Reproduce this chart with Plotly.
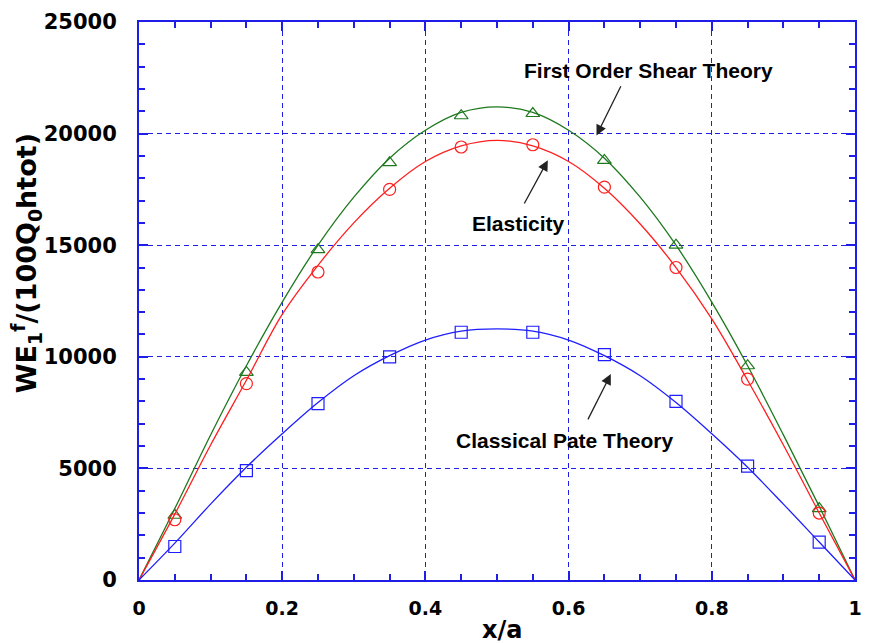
import plotly.graph_objects as go

# curve sample positions and values
x_curve = [0, 0.05, 0.1, 0.15, 0.2, 0.25, 0.3, 0.35, 0.4, 0.45, 0.5,
           0.55, 0.6, 0.65, 0.7, 0.75, 0.8, 0.85, 0.9, 0.95, 1.0]
fsdt_curve = [0, 3200, 6500, 9600, 12450, 15000, 17150, 18900, 20150, 20950, 21200,
              20950, 20150, 18900, 17150, 15000, 12450, 9600, 6500, 3300, 0]
elas_curve = [0, 2950, 6050, 8950, 11900, 14100, 16000, 17550, 18750, 19450, 19700,
              19450, 18750, 17550, 15950, 14000, 11700, 8950, 6050, 3000, 0]
cpt_curve = [0, 1650, 3400, 5050, 6550, 7950, 9150, 10050, 10750, 11150, 11250,
             11150, 10750, 10050, 9150, 7950, 6550, 5050, 3400, 1700, 0]

# marker positions and values
x_mark = [0.05, 0.15, 0.25, 0.35, 0.45, 0.55, 0.65, 0.75, 0.85, 0.95]
fsdt_mark = [2900, 9300, 14800, 18700, 20800, 20900, 18800, 15000, 9600, 3200]
elas_mark = [2700, 8800, 13800, 17500, 19400, 19500, 17600, 14000, 9000, 3000]
cpt_mark = [1500, 4900, 7900, 10000, 11100, 11100, 10100, 8000, 5100, 1700]

GREEN = "rgb(30,120,30)"
RED = "rgb(255,30,30)"
BLUE = "rgb(30,30,255)"
AXIS = "rgb(30,30,230)"

fig = go.Figure()
for yc, ym, col, sym in [(fsdt_curve, fsdt_mark, GREEN, "triangle-up-open"),
                         (elas_curve, elas_mark, RED, "circle-open"),
                         (cpt_curve, cpt_mark, BLUE, "square-open")]:
    fig.add_trace(go.Scatter(x=x_curve, y=yc, mode="lines",
                             line=dict(color=col, width=1.3, shape="spline"),
                             showlegend=False, hoverinfo="skip"))
    fig.add_trace(go.Scatter(x=x_mark, y=ym, mode="markers",
                             marker=dict(symbol=sym, size=12, color=col,
                                         line=dict(color=col, width=1.2)),
                             showlegend=False))

# empty trace to activate the frame axes (top / right, mirrored to bottom / left)
fig.add_trace(go.Scatter(x=[], y=[], xaxis="x2", yaxis="y2", showlegend=False,
                         hoverinfo="skip"))

font_lab = dict(family="Liberation Sans, Arial, sans-serif", size=21, color="black", weight="bold")
annots = [
    dict(text="First Order Shear Theory", x=0.712, y=22815,
         head_x=0.639, head_y=19918, tail_x=0.674, tail_y=22190),
    dict(text="Elasticity", x=0.530, y=15952,
         head_x=0.571, head_y=18804, tail_x=0.537, tail_y=16800),
    dict(text="Classical Pate Theory", x=0.594, y=6238,
         head_x=0.659, head_y=9224, tail_x=0.626, tail_y=7130),
]
for a in annots:
    fig.add_annotation(x=a["x"], y=a["y"], text=a["text"], showarrow=False,
                       font=font_lab, xref="x", yref="y")
    fig.add_annotation(x=a["head_x"], y=a["head_y"], ax=a["tail_x"], ay=a["tail_y"],
                       axref="x", ayref="y", xref="x", yref="y", text="",
                       showarrow=True, arrowhead=2, arrowsize=1.6, arrowwidth=1.3,
                       arrowcolor="#222222")

# axis titles as annotations (positioned as in the reference)
fig.add_annotation(text="WE<sub>1</sub><sup>f</sup>/(100Q<sub>0</sub>htot)",
                   xref="paper", yref="paper", x=-0.157, y=0.567, textangle=-90,
                   showarrow=False, xanchor="center", yanchor="middle",
                   font=dict(family="DejaVu Sans, sans-serif", size=27, color="black", weight="bold"))
fig.add_annotation(text="x/a", xref="paper", yref="paper", x=0.507, y=-0.089,
                   showarrow=False, xanchor="center", yanchor="middle",
                   font=dict(family="DejaVu Sans, sans-serif", size=24, color="black", weight="bold"))

xtickfont = dict(family="DejaVu Sans, sans-serif", size=19, color="black", weight="bold")
ytickfont = dict(family="DejaVu Sans, sans-serif", size=21, color="black", weight="bold")

grid_common = dict(showline=True, linecolor=AXIS, linewidth=2, mirror=False,
                   ticks="", showgrid=True, gridcolor=AXIS, gridwidth=1.2,
                   griddash="5px,4px", zeroline=False)
frame_common = dict(showline=True, linecolor=AXIS, linewidth=2, mirror="allticks",
                    ticks="inside", tickcolor=AXIS, ticklen=9, tickwidth=1.5,
                    showgrid=False, zeroline=False, showticklabels=False)

fig.update_layout(
    width=872, height=644, margin=dict(l=139, r=10, t=19, b=64),
    paper_bgcolor="white", plot_bgcolor="white", showlegend=False,
    xaxis=dict(range=[0, 1], tickmode="linear", tick0=0, dtick=0.2,
               ticklabelstandoff=10, tickfont=xtickfont, **grid_common),
    yaxis=dict(range=[0, 25000], tickmode="linear", tick0=0, dtick=5000, tickformat="d",
               ticklabelstandoff=16, tickfont=ytickfont, **grid_common),
    xaxis2=dict(range=[0, 1], overlaying="x", side="top", anchor="y2",
                tickmode="linear", tick0=0, dtick=0.2,
                minor=dict(dtick=0.05, tick0=0, ticks="inside", ticklen=6,
                           tickcolor=AXIS, tickwidth=1.5, showgrid=False),
                **frame_common),
    yaxis2=dict(range=[0, 25000], overlaying="y", side="right", anchor="x2",
                tickmode="linear", tick0=0, dtick=5000,
                minor=dict(dtick=1000, tick0=0, ticks="inside", ticklen=6,
                           tickcolor=AXIS, tickwidth=1.5, showgrid=False),
                **frame_common),
)

fig.write_html("out.html")
